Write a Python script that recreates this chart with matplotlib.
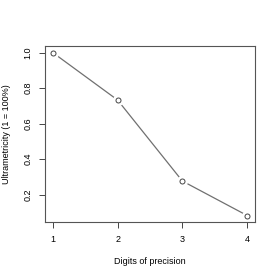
import matplotlib

matplotlib.use("Agg")
import matplotlib.pyplot as plt

digits = [1, 2, 3, 4]
ultrametricity = [1.0, 0.733, 0.277, 0.083]
y_ticks = [0.2, 0.4, 0.6, 0.8, 1.0]

plt.rcParams["font.family"] = ["Liberation Sans", "DejaVu Sans"]

fig = plt.figure(figsize=(2.78, 2.79), dpi=100)
ax = fig.add_axes([0.162, 0.204, 0.755, 0.631])

ax.plot(digits, ultrametricity, color="#707070", lw=0.9, zorder=1)
# white halo so the line stops short of each circle, like R type="b"
ax.plot(digits, ultrametricity, ls="none", marker="o", ms=7, mfc="white", mec="white", zorder=2)
ax.plot(digits, ultrametricity, ls="none", marker="o", ms=3.6, mfc="white", mec="#444444", mew=0.7, zorder=3)

ax.set_xlim(0.88, 4.12)
ax.set_ylim(0.046, 1.037)
ax.set_xticks(digits)
ax.set_yticks(y_ticks)
ax.set_yticklabels([f"{v:.1f}" for v in y_ticks], rotation=90, va="center")
ax.tick_params(direction="out", length=4, width=0.7, color="#444444", labelsize=6.5, pad=5)
for sp in ax.spines.values():
    sp.set_color("#555555")
    sp.set_linewidth(0.8)

ax.set_xlabel("Digits of precision", fontsize=6.5, labelpad=10)
ax.set_ylabel("Ultrametricity (1 = 100%)", fontsize=6.5, labelpad=9)

fig.savefig("out.png", dpi=100)
plt.close(fig)
